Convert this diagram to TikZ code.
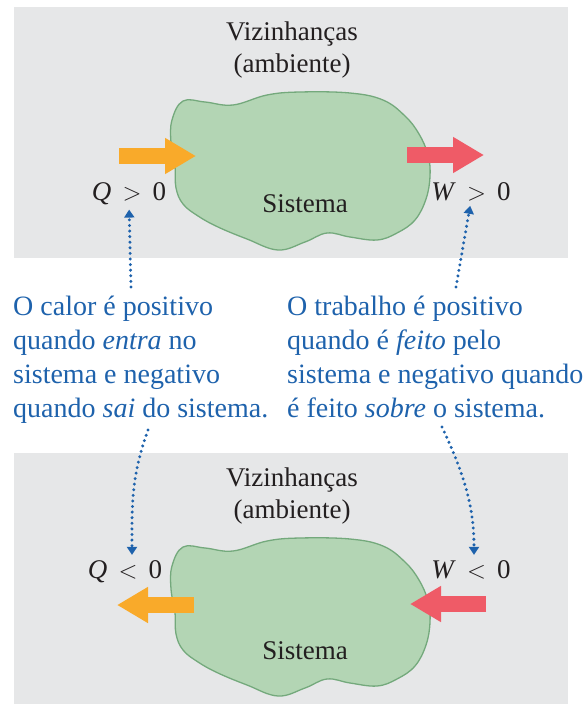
\documentclass[tikz,border=0pt]{standalone}
\usepackage{fontspec}
\setmainfont{Liberation Serif}
\usepackage{xcolor}
\usepackage{tikz}
\usetikzlibrary{arrows.meta,positioning}

\definecolor{painelcinza}{HTML}{E6E7E8}
\definecolor{verdeblob}{HTML}{B3D5B4}
\definecolor{verdeborda}{HTML}{74A97C}
\definecolor{laranja}{HTML}{F9AA2A}
\definecolor{vermelho}{HTML}{EF5B67}
\definecolor{azulnota}{HTML}{1E62AC}
\definecolor{textoescuro}{HTML}{231F20}

\tikzset{
  blob/.pic={
    \path[fill=verdeblob, draw=verdeborda, line width=1.3pt]
      plot[smooth cycle, tension=0.65] coordinates {
        (172,120) (183,101) (205,102) (233,105) (267,95) (300,92)
        (350,93) (383,100) (405,116) (419,134) (428,155) (430,176)
        (426,199) (415,220) (397,233) (377,240) (350,237) (327,233)
        (305,242) (278,250) (247,239) (218,227) (198,216) (183,204)
        (176,188) (175,167) (171,143)};
  }
}

\begin{document}
\begin{tikzpicture}[x=1pt, y=-1pt,
    every node/.style = {inner sep=0pt, text=textoescuro, font=\fontsize{27}{32}\selectfont},
    painel/.style = {fill=painelcinza},
    seta/.style = {line width=16pt, -{Triangle[length=31pt, width=34pt]}},
    nota/.style = {text=azulnota, font=\fontsize{28}{34}\selectfont, align=left, anchor=base west},
    ligacao/.style = {azulnota, line width=3.3pt, line cap=round, dash pattern=on 0pt off 5.6pt,
                      -{Triangle[length=8pt, width=10pt]}, shorten >=5pt}
  ]
    \useasboundingbox (0,0) rectangle (587,704);

    % painel de cima: Q > 0, W > 0
    \fill[painel] (14,7) rectangle (568,258);
    \pic at (0,0) {blob};
    \node[anchor=base] (viz1) at (292,40) {Vizinhanças};
    \node[below=8pt of viz1] (amb1) {(ambiente)};
    \node[anchor=base] (s1) at (305,212) {Sistema};
    \node[anchor=base] (q1) at (129,200) {\textit{Q}\, $>$\, 0};
    \node[anchor=base] (w1) at (471,200) {\textit{W}\, $>$\, 0};

    \coordinate (qa1) at (119,156);
    \coordinate (qb1) at (196,156);
    \coordinate (wa1) at (407,155);
    \coordinate (wb1) at (484,155);
    \draw[seta, laranja] (qa1) -- (qb1);
    \draw[seta, vermelho] (wa1) -- (wb1);

    % painel de baixo: Q < 0, W < 0
    \fill[painel] (14,453) rectangle (568,704);
    \pic at (0,446) {blob};
    \node[anchor=base] (viz2) at (292,486) {Vizinhanças};
    \node[below=8pt of viz2] (amb2) {(ambiente)};
    \node[anchor=base] (s2) at (305,659) {Sistema};
    \node[anchor=base] (q2) at (125,578) {\textit{Q}\, $<$\, 0};
    \node[anchor=base] (w2) at (471,578) {\textit{W}\, $<$\, 0};

    \coordinate (qa2) at (194,605);
    \coordinate (qb2) at (117,605);
    \coordinate (wa2) at (486,604);
    \coordinate (wb2) at (410,604);
    \draw[seta, laranja] (qa2) -- (qb2);
    \draw[seta, vermelho] (wa2) -- (wb2);

    % notas (base = ultima linha)
    \node[nota] (calor) at (13,417)
      {O calor é positivo\\ quando \textit{entra} no\\ sistema e negativo\\ quando \textit{sai} do sistema.};
    \node[nota] (trabalho) at (287,417)
      {O trabalho é positivo\\ quando é \textit{feito} pelo\\ sistema e negativo quando\\ é feito \textit{sobre} o sistema.};

    \coordinate (c1) at (131,287);
    \coordinate (c2) at (456,287);
    \coordinate (c3) at (148,430);
    \coordinate (c4) at (442,427);
    \draw[ligacao] (c1) -- (q1.south);
    \draw[ligacao] (c2) -- (w1.south);
    \draw[ligacao] (c3) to[out=-110, in=90] ([xshift=7pt]q2.north);
    \draw[ligacao] (c4) to[out=-65, in=90] ([xshift=3pt]w2.north);
\end{tikzpicture}
\end{document}
